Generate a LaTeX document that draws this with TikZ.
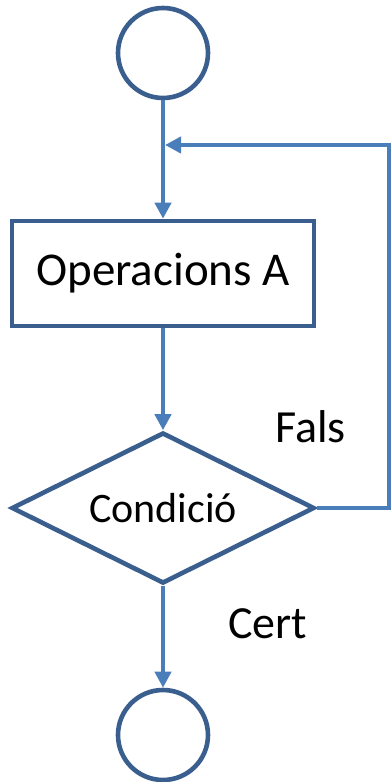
\documentclass[tikz,border=0pt]{standalone}
\usepackage{fontspec}
\setmainfont{Carlito}
\usetikzlibrary{shapes.geometric,arrows.meta}
\definecolor{shapeblue}{HTML}{3A5F8E}
\definecolor{arrowblue}{HTML}{4A7EBB}
\tikzset{
  shapeline/.style={draw=shapeblue,line width=4.6pt,fill=white},
  termcircle/.style={shapeline,circle,minimum size=90pt,inner sep=0pt},
  procbox/.style={shapeline,rectangle,minimum width=302pt,minimum height=105pt,inner sep=0pt,font=\fontsize{47}{56}\selectfont},
  decision/.style={shapeline,diamond,aspect=2,minimum width=303pt,minimum height=151pt,inner sep=0pt,font=\fontsize{42}{50}\selectfont},
  flow/.style={draw=arrowblue,line width=4.4pt,-{Triangle[length=16pt,width=16pt]}},
  lbl/.style={font=\fontsize{46}{55}\selectfont,inner sep=0pt,anchor=base west}
}
\begin{document}
\begin{tikzpicture}[x=1pt,y=-1pt]
\useasboundingbox (0,0) rectangle (391,782);
\node[termcircle] (start) at (163,53) {};
\node[procbox] (ops) at (163,273.5) {\raisebox{-4pt}{Operacions A}};
\node[decision] (cond) at (163,508) {Condició};
\node[termcircle] (end) at (163,735) {};
\coordinate (corner1) at (389,508);
\coordinate (corner2) at (389,145);
\coordinate (join) at (165,145);
\draw[flow] (start.south) -- (ops.north);
\draw[flow] (ops.south) -- (cond.north);
\draw[flow] (cond.south) -- (end.north);
\draw[flow,line cap=butt] (cond.east) -- (corner1) -- (corner2) -- (join);
\node[lbl] (fals) at (275,442) {Fals};
\node[lbl] (cert) at (228,638) {Cert};
\end{tikzpicture}
\end{document}
